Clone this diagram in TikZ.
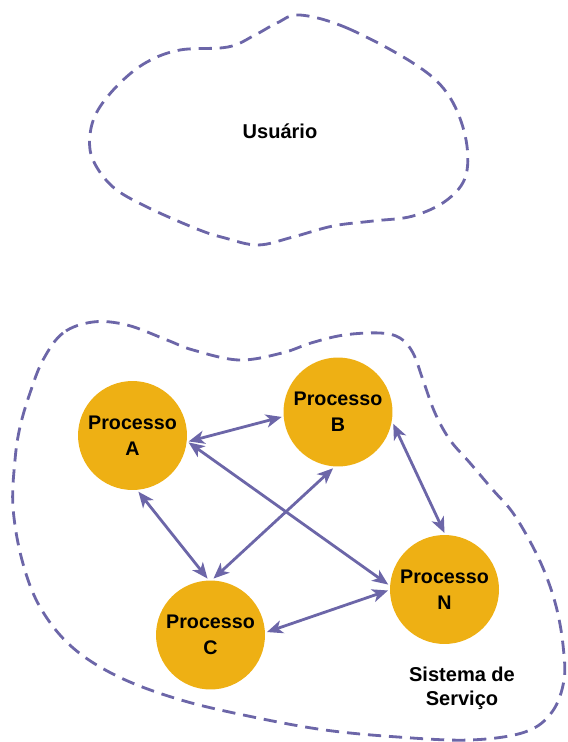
\documentclass[tikz,border=0pt]{standalone}
\usepackage{fontspec}
\setmainfont{Liberation Sans}
\usepackage{tikz}
\usetikzlibrary{arrows.meta}
\definecolor{lilac}{HTML}{6C66A8}
\definecolor{gold}{HTML}{EEB014}
\tikzset{
  proc/.style={circle, fill=gold, minimum size=2.18cm, inner sep=0pt, outer sep=0.04cm,
               align=center, font=\fontsize{11.2}{14.8}\selectfont\bfseries},
  link/.style={draw=lilac, line width=1.6pt,
               {Stealth[length=9pt,width=7.5pt,inset=2.5pt]}-{Stealth[length=9pt,width=7.5pt,inset=2.5pt]}}, % two-way link
  zone/.style={draw=lilac, line width=1.6pt, dash pattern=on 7.5pt off 4.5pt},                               % dashed region
  lbl/.style={align=center, font=\fontsize{11.4}{13.6}\selectfont\bfseries},
}
\begin{document}
\begin{tikzpicture}[x=0.02cm, y=-0.02cm]
  \useasboundingbox (0,0) rectangle (567,742);
  % user region
  \draw[zone] plot[smooth cycle, tension=0.6] coordinates {
    (300,15) (347,28) (413,63) (447,93) (465,135) (466,175) (447,200) (413,216)
    (373,221) (333,226) (293,237) (258,245) (225,238) (197,229) (147,207) (113,187)
    (93,160) (90,135) (98,110) (120,83) (147,62) (180,50) (228,47) (255,35) (277,23)};
  \node[lbl] (usr) at (280,131) {Usuário};
  % service system region
  \draw[zone] plot[smooth cycle, tension=0.6] coordinates {
    (93,322) (63,333) (43,360) (30,393) (20,427) (15,460) (13,507) (22,560) (40,607)
    (72,647) (119,677) (181,700) (253,717) (325,730) (398,737) (470,740) (525,732)
    (552,712) (564,680) (563,645) (557,610) (547,578) (533,547) (513,513) (493,490)
    (470,463) (450,440) (435,413) (423,380) (413,353) (400,338) (380,333) (344,335)
    (311,343) (282,353) (239,360) (193,350) (167,340) (127,325)};
  \node[lbl] (sis) at (462,688) {Sistema de\\Serviço};
  \node[proc] (A) at (132.5,435.5) {Processo\\A};
  \node[proc] (B) at (338,412)     {Processo\\B};
  \node[proc] (N) at (444.5,589.5) {Processo\\N};
  \node[proc] (C) at (210.5,635)   {Processo\\C};
  \foreach \u/\v in {A.-6/B.185, A.-7/N.175, A.-84/C.93, C.87/B.265, B.-12/N.90, C.3/N.181}
    \draw[link] (\u) -- (\v);
\end{tikzpicture}
\end{document}
